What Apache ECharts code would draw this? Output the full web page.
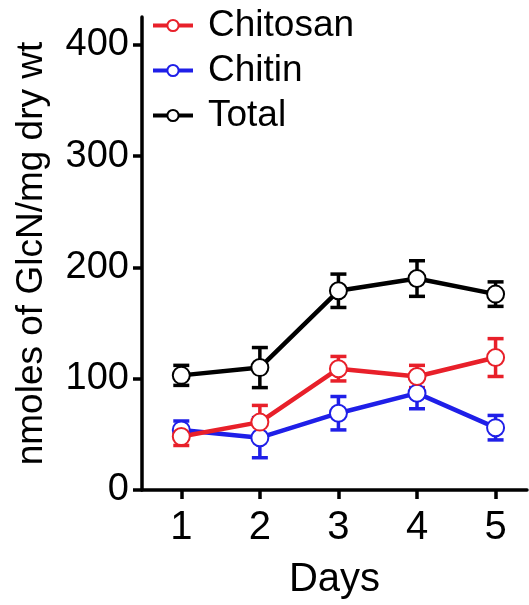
<!DOCTYPE html>
<html>
<head>
<meta charset="utf-8">
<script src="https://cdn.jsdelivr.net/npm/echarts@6/dist/echarts.min.js"></script>
<style>
  html, body { margin: 0; padding: 0; background: #fff; }
  #chart { width: 529px; height: 605px; }
</style>
</head>
<body>
<div id="chart"></div>
<script>
// data
const days = [1, 2, 3, 4, 5];
const chitosan = [48, 61, 109, 102, 119];
const chitosanErr = [8, 15, 11, 10, 17];
const chitin = [54, 47, 69, 87, 56];
const chitinErr = [8, 18, 15, 14, 11];
const total = [103, 110, 179, 190, 176];
const totalErr = [9, 18, 15, 16, 11];
const yTicks = [0, 100, 200, 300, 400];

const FONT = 'Liberation Sans, Arial, Helvetica, sans-serif';

// line series + matching error bars
function makeSeries(name, color, vals, errs) {
  const line = {
    name: name,
    type: 'line',
    data: days.map((d, i) => [d, vals[i]]),
    symbol: 'emptyCircle',
    symbolSize: 17,
    z: 3,
    itemStyle: { color: color, borderWidth: 3.5 },
    lineStyle: { color: color, width: 4.5 }
  };
  const bars = {
    name: name + ' SEM',
    type: 'custom',
    z: 2,
    silent: true,
    data: days.map((d, i) => [d, vals[i] - errs[i], vals[i] + errs[i]]),
    renderItem: (params, api) => {
      const lo = api.coord([api.value(0), api.value(1)]);
      const hi = api.coord([api.value(0), api.value(2)]);
      const half = 8;
      const style = { stroke: color, lineWidth: 3.5 };
      return {
        type: 'group',
        children: [
          { type: 'line', shape: { x1: lo[0], y1: lo[1], x2: hi[0], y2: hi[1] }, style: style },
          { type: 'line', shape: { x1: lo[0] - half, y1: lo[1], x2: lo[0] + half, y2: lo[1] }, style: style },
          { type: 'line', shape: { x1: hi[0] - half, y1: hi[1], x2: hi[0] + half, y2: hi[1] }, style: style }
        ]
      };
    }
  };
  return [bars, line];
}

const chart = echarts.init(document.getElementById('chart'));
chart.setOption({
  animation: false,
  backgroundColor: '#fff',
  textStyle: { fontFamily: FONT },
  grid: { left: 142, right: 2, top: 17, bottom: 114 },
  legend: {
    orient: 'vertical',
    left: 146,
    top: 2,
    itemWidth: 40,
    itemHeight: 14,
    itemGap: 8,
    data: ['Chitosan', 'Chitin', 'Total'],
    lineStyle: { width: 4 },
    itemStyle: { borderWidth: 3 },
    textStyle: { fontSize: 37, color: '#000', fontFamily: FONT, padding: [0, 0, 0, 10] }
  },
  xAxis: {
    type: 'value',
    min: 0.5,
    max: 5.4,
    name: 'Days',
    nameLocation: 'middle',
    nameGap: 70,
    nameTextStyle: { fontSize: 40, color: '#000', fontFamily: FONT },
    splitLine: { show: false },
    axisLine: { lineStyle: { color: '#000', width: 3.5 } },
    axisTick: { length: 9, lineStyle: { color: '#000', width: 3.5 }, customValues: days },
    axisLabel: { fontSize: 40, color: '#000', margin: 18, customValues: days, fontFamily: FONT }
  },
  yAxis: {
    type: 'value',
    min: 0,
    max: 425,
    name: 'nmoles of GlcN/mg dry wt',
    nameLocation: 'middle',
    nameGap: 92,
    nameTextStyle: { fontSize: 37, color: '#000', fontFamily: FONT },
    splitLine: { show: false },
    axisLine: { show: true, lineStyle: { color: '#000', width: 3.5 } },
    axisTick: { show: true, length: 9, lineStyle: { color: '#000', width: 3.5 }, customValues: yTicks },
    axisLabel: { fontSize: 38, color: '#000', margin: 13, customValues: yTicks, fontFamily: FONT }
  },
  series: [
    ...makeSeries('Total', '#000000', total, totalErr),
    ...makeSeries('Chitin', '#1f1fe8', chitin, chitinErr),
    ...makeSeries('Chitosan', '#e8202a', chitosan, chitosanErr)
  ]
});
</script>
</body>
</html>
